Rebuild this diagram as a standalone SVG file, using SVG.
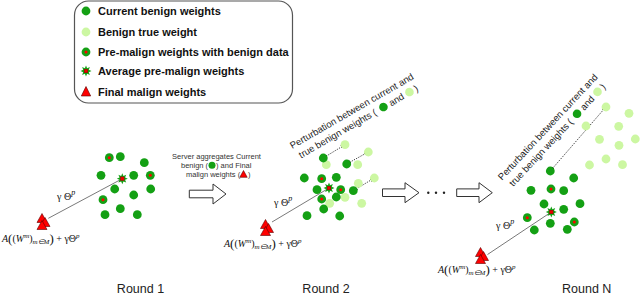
<svg xmlns="http://www.w3.org/2000/svg" width="640" height="297" viewBox="0 0 640 297">
<style>
.dg{fill:#14a014}
.lg{fill:#ccf7a2}
.rd{fill:#f00}
.tri{fill:#f00;stroke:#5a0000;stroke-width:0.6}
.conn{stroke:#7a7a7a;stroke-width:1;fill:none}
.dot{stroke:#222;stroke-width:0.9;stroke-dasharray:1.2 1.3;fill:none;marker-start:url(#ah);marker-end:url(#ah)}
.blk{fill:#fff;stroke:#333;stroke-width:1}
.leg{font-family:"Liberation Sans",Arial,sans-serif;font-weight:bold;font-size:11px;fill:#111}
.sm{font-family:"Liberation Sans",Arial,sans-serif;font-size:7.5px;fill:#333}
.pt{font-family:"Liberation Sans",Arial,sans-serif;font-size:9.5px;fill:#222}
.rnd{font-family:"Liberation Sans",Arial,sans-serif;font-size:12.5px;fill:#222;text-anchor:middle}
.math{font-family:"Liberation Serif","Times New Roman",serif;font-size:10px;fill:#111}
.it{font-style:italic}
</style>
<defs>
<marker id="ah" viewBox="0 0 6 6" refX="6" refY="3" markerWidth="3.5" markerHeight="3.5" markerUnits="userSpaceOnUse" orient="auto-start-reverse">
<path d="M0,0 L6,3 L0,6 z" fill="#111"/>
</marker>
<circle id="cb" r="4.4" class="dg"/>
<circle id="cl" r="4.4" class="lg"/>
<g id="pm"><circle r="4.4" class="dg"/><circle r="1.5" class="rd"/></g>
<g id="star"><polygon class="dg" points="0,-5.5 1.15,-2.77 3.89,-3.89 2.77,-1.15 5.5,0 2.77,1.15 3.89,3.89 1.15,2.77 0,5.5 -1.15,2.77 -3.89,3.89 -2.77,1.15 -5.5,0 -2.77,-1.15 -3.89,-3.89 -1.15,-2.77"/><rect x="-1.8" y="-1.8" width="3.6" height="3.6" fill="#e00" stroke="#800" stroke-width="0.4"/></g>
<g id="tri3"><polygon class="tri" points="-1,-8 -6,1 4,1"/><polygon class="tri" points="2,-4 -3,5 7,5"/><polygon class="tri" points="-1,-1 -6,8 4,8"/></g>
</defs>

<g id="legend">
<rect x="74.5" y="1" width="218" height="102" rx="14" fill="#fff" stroke="#555" stroke-width="1.2"/>
<use href="#cb" x="86" y="11"/>
<text class="leg" x="98" y="15">Current benign weights</text>
<use href="#cl" x="86" y="32"/>
<text class="leg" x="98" y="36">Benign true weight</text>
<use href="#pm" x="86" y="52"/>
<text class="leg" x="98" y="56">Pre-malign weights with benign data</text>
<use href="#star" x="86" y="71"/>
<text class="leg" x="98" y="75">Average pre-malign weights</text>
<polygon class="tri" points="86,86.5 81.3,96 90.7,96"/>
<text class="leg" x="98" y="95.5">Final malign weights</text>
</g>

<g id="connectors">
<line class="conn" x1="48.3" y1="218.3" x2="122.3" y2="178.7"/>
<line class="conn" x1="272" y1="222" x2="329" y2="188"/>
<line class="conn" x1="487.5" y1="254.5" x2="551.3" y2="212"/>
<line class="dot" x1="324" y1="157.5" x2="344.2" y2="145.2"/>
<line class="dot" x1="347.4" y1="163.6" x2="367.5" y2="152.4"/>
<line class="dot" x1="354" y1="190.3" x2="373.5" y2="178.5"/>
<line class="dot" x1="550.9" y1="170.3" x2="605.4" y2="107.5"/>
<path class="blk" d="M189.3,190.2 H213 V184 L226,194 L213,204 V197.8 H189.3 Z"/>
<path class="blk" d="M382.5,188.9 H405 V182.7 L419,192.7 L405,202.7 V196.5 H382.5 Z"/>
<path class="blk" d="M456.7,188.9 H479 V182.7 L492.3,192.7 L479,202.7 V196.5 H456.7 Z"/>
</g>

<g id="round1">
<g id="r1-weights">
<use href="#pm" x="109.3" y="157.7"/>
<use href="#cb" x="120.3" y="156.7"/>
<use href="#cb" x="144.3" y="162.7"/>
<use href="#cb" x="101" y="175.3"/>
<use href="#cb" x="133.7" y="175.3"/>
<use href="#pm" x="150.3" y="175.3"/>
<use href="#cb" x="114.7" y="189"/>
<use href="#cb" x="150.7" y="189"/>
<use href="#pm" x="103" y="199.7"/>
<use href="#cb" x="133.7" y="195"/>
<use href="#cb" x="105" y="214.7"/>
<use href="#cb" x="120.3" y="208.7"/>
<use href="#cb" x="137.3" y="214.7"/>
</g>
<g id="r1-average"><use href="#star" x="122.3" y="178.7"/></g>
<g id="r1-malign"><use href="#tri3" x="43" y="221.5"/></g>
<text class="math" font-size="12" x="57" y="200">γ  Θ<tspan class="it" font-size="8" dy="-5">p</tspan></text>
<text class="math" x="2" y="242"><tspan class="it">A</tspan><tspan font-size="13" dy="1">(</tspan><tspan dy="-1">(</tspan><tspan class="it">W</tspan><tspan class="it" font-size="7" dy="-4">m</tspan><tspan dy="4">)</tspan><tspan class="it" font-size="7" dy="2">m∈M</tspan><tspan font-size="13" dy="-1">)</tspan><tspan dy="-1"> + γΘ</tspan><tspan class="it" font-size="7" dy="-4">p</tspan></text>
<text class="rnd" x="140.5" y="293">Round 1</text>
</g>

<g id="server-note">
<text class="sm" x="216.5" y="159" text-anchor="middle">Server aggregates Current</text>
<text class="sm" x="181" y="168">benign (</text>
<circle cx="212" cy="165.3" r="3.5" class="dg"/>
<text class="sm" x="216" y="168">) and Final</text>
<text class="sm" x="186" y="177">malign weights (</text>
<polygon class="tri" points="243.5,170.5 239.8,177.3 247.2,177.3"/>
<text class="sm" x="248" y="177">)</text>
</g>

<g id="round2">
<g id="r2-true">
<use href="#cl" x="345" y="144.7"/>
<use href="#cl" x="368.3" y="152"/>
<use href="#cl" x="326.3" y="164.7"/>
<use href="#cl" x="357.7" y="164.7"/>
<use href="#cl" x="374.3" y="178"/>
<use href="#cl" x="358.3" y="183.3"/>
<use href="#cl" x="345" y="197.3"/>
<use href="#cl" x="361.7" y="203.3"/>
<use href="#cl" x="329.7" y="203.3"/>
</g>
<g id="r2-weights">
<use href="#cb" x="323.3" y="158"/>
<use href="#cb" x="346.7" y="164"/>
<use href="#cb" x="304.3" y="178"/>
<use href="#pm" x="321.7" y="178.7"/>
<use href="#cb" x="336.3" y="177.3"/>
<use href="#cb" x="317" y="189.7"/>
<use href="#pm" x="340.7" y="189.7"/>
<use href="#cb" x="353.3" y="190.7"/>
<use href="#pm" x="321.7" y="199"/>
<use href="#cb" x="336.3" y="197"/>
<use href="#cb" x="323.7" y="209"/>
<use href="#cb" x="307" y="215.7"/>
<use href="#cb" x="339.7" y="216"/>
</g>
<g id="r2-average"><use href="#star" x="329" y="188"/></g>
<g id="r2-malign"><use href="#tri3" x="266.5" y="227.5"/></g>
<g id="r2-perturbation" transform="translate(301.1,158.4) rotate(-30)">
<text class="pt" x="-3" y="-12.5">Perturbation between current and</text>
<text class="pt" x="0" y="0">true benign weights (</text>
<circle cx="97" cy="-3.3" r="4.3" class="dg"/>
<text class="pt" x="104" y="0">and</text>
<circle cx="127" cy="-3.3" r="4.3" class="lg"/>
<text class="pt" x="133" y="0">)</text>
</g>
<text class="math" font-size="12" x="274" y="206">γ  Θ<tspan class="it" font-size="8" dy="-5">p</tspan></text>
<text class="math" x="224" y="247"><tspan class="it">A</tspan><tspan font-size="13" dy="1">(</tspan><tspan dy="-1">(</tspan><tspan class="it">W</tspan><tspan class="it" font-size="7" dy="-4">m</tspan><tspan dy="4">)</tspan><tspan class="it" font-size="7" dy="2">m∈M</tspan><tspan font-size="13" dy="-1">)</tspan><tspan dy="-1"> + γΘ</tspan><tspan class="it" font-size="7" dy="-4">p</tspan></text>
<text class="rnd" x="326" y="293">Round 2</text>
</g>

<g id="ellipsis">
<circle cx="428.3" cy="192.7" r="1.2" fill="#222"/>
<circle cx="436" cy="192.7" r="1.2" fill="#222"/>
<circle cx="444" cy="192.7" r="1.2" fill="#222"/>
</g>

<g id="roundN">
<g id="rN-true">
<use href="#cl" x="606" y="107"/>
<use href="#cl" x="629" y="113.3"/>
<use href="#cl" x="586" y="126"/>
<use href="#cl" x="618.7" y="126.3"/>
<use href="#cl" x="599.5" y="139.3"/>
<use href="#cl" x="619" y="145.3"/>
<use href="#cl" x="635.3" y="139"/>
<use href="#cl" x="606" y="159"/>
<use href="#cl" x="589.5" y="165"/>
<use href="#cl" x="622.5" y="164.7"/>
</g>
<g id="rN-weights">
<use href="#cb" x="550.3" y="171"/>
<use href="#cb" x="573.7" y="178"/>
<use href="#cb" x="531" y="190.3"/>
<use href="#pm" x="551" y="189"/>
<use href="#cb" x="563.7" y="190.7"/>
<use href="#cb" x="544" y="204"/>
<use href="#cb" x="563.7" y="209.3"/>
<use href="#cb" x="580" y="203.7"/>
<use href="#pm" x="527.3" y="217.7"/>
<use href="#cb" x="550.3" y="223.3"/>
<use href="#pm" x="574.3" y="222"/>
<use href="#cb" x="534.3" y="230"/>
<use href="#cb" x="567.3" y="229.3"/>
</g>
<g id="rN-average"><use href="#star" x="551.3" y="212"/></g>
<g id="rN-malign"><use href="#tri3" x="481.5" y="255.5"/></g>
<g id="rN-perturbation" transform="translate(513.3,187) rotate(-47)">
<text class="pt" x="-3" y="-12.5">Perturbation between current and</text>
<text class="pt" x="0" y="0">true benign weights (</text>
<circle cx="97" cy="-3.3" r="4.3" class="dg"/>
<text class="pt" x="104" y="0">and</text>
<circle cx="127" cy="-3.3" r="4.3" class="lg"/>
<text class="pt" x="133" y="0">)</text>
</g>
<text class="math" font-size="12" x="496" y="229">γ  Θ<tspan class="it" font-size="8" dy="-5">p</tspan></text>
<text class="math" x="438" y="273"><tspan class="it">A</tspan><tspan font-size="13" dy="1">(</tspan><tspan dy="-1">(</tspan><tspan class="it">W</tspan><tspan class="it" font-size="7" dy="-4">m</tspan><tspan dy="4">)</tspan><tspan class="it" font-size="7" dy="2">m∈M</tspan><tspan font-size="13" dy="-1">)</tspan><tspan dy="-1"> + γΘ</tspan><tspan class="it" font-size="7" dy="-4">p</tspan></text>
<text class="rnd" x="586.7" y="293">Round N</text>
</g>
</svg>
